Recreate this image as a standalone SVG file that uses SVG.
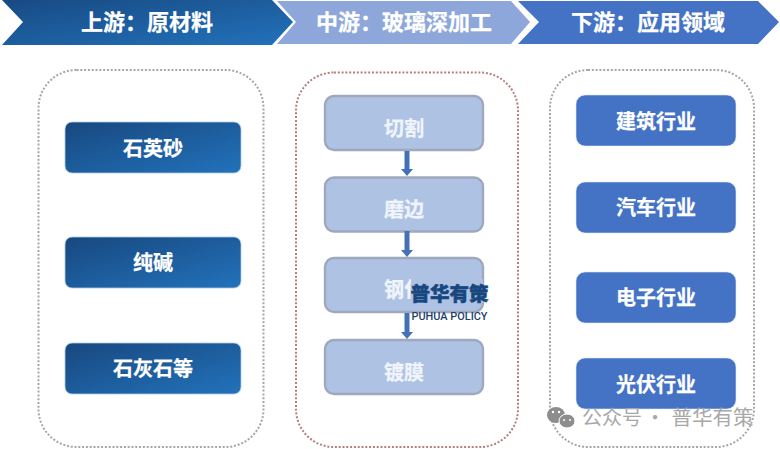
<svg xmlns="http://www.w3.org/2000/svg" width="780" height="449" viewBox="0 0 780 449">
  <style>
    text { font-family: "Noto Sans CJK SC", "Noto Sans", sans-serif; text-anchor: middle; }
    .hd { font-size: 22px; font-weight: 700; fill: #fff; stroke: #fff; stroke-width: .25; }
    .lb { font-size: 20px; font-weight: 700; fill: #fff; stroke: #fff; stroke-width: .25; }
    .mid { fill: #f0f4fb; stroke: #f0f4fb; }
    .panel { fill: #fff; stroke-width: 2; stroke-dasharray: 2 1.800; }
    .dark { fill: url(#dg); stroke: #a9cbe8; stroke-width: .8; }
    .soft { fill: #aec2e3; stroke: #9fa8bc; stroke-width: 2.400; }
    .blue { fill: #4472c4; stroke: #dce7f6; stroke-width: .6; }
    .arrow { stroke: #4470b8; stroke-width: 5; fill: none; marker-end: url(#ah); }
  </style>
  <defs>
    <linearGradient id="dg" x1="0" y1="0" x2="1" y2="1">
      <stop offset="0" stop-color="#18487f"/>
      <stop offset="1" stop-color="#2272bb"/>
    </linearGradient>
    <linearGradient id="hg" x1="0" y1="0" x2="1" y2="1">
      <stop offset="0" stop-color="#184a83"/>
      <stop offset="1" stop-color="#2272bb"/>
    </linearGradient>
    <marker id="ah" markerUnits="userSpaceOnUse" markerWidth="7" markerHeight="12" refX="1" refY="6" orient="auto" viewBox="0 0 7 12">
      <path d="M0 0L7 6L0 12Z" fill="#4470b8"/>
    </marker>
  </defs>
  <rect width="780" height="449" fill="#fff"/>

  <g id="header-up">
    <polygon points="2,0 272,0 293,22 272,45 2,45 23,22" fill="url(#hg)"/>
    <text class="hd" x="147" y="30">上游：原材料</text>
  </g>
  <g id="header-mid">
    <polygon points="277,1 511,1 530,22 511,44 277,44 296,22" fill="#8ea7da"/>
    <text class="hd" x="404" y="30">中游：玻璃深加工</text>
  </g>
  <g id="header-down">
    <polygon points="518,1 758,1 779,22 758,44 518,44 539,22" fill="#4472c4"/>
    <text class="hd" x="648" y="30">下游：应用领域</text>
  </g>

  <g id="panel-up"><rect class="panel" x="38.500" y="70" width="225" height="377" rx="38" stroke="#a6a6a6"/></g>
  <g id="panel-mid"><rect class="panel" x="296" y="72.500" width="222" height="374.500" rx="38" stroke="#b47f80"/></g>
  <g id="panel-down"><rect class="panel" x="550" y="70" width="204" height="377" rx="38" stroke="#a6a6a6"/></g>

  <g id="n-quartz"><rect class="dark" x="65" y="122" width="176" height="51" rx="7"/><text class="lb" x="153" y="155.500">石英砂</text></g>
  <g id="n-soda"><rect class="dark" x="65" y="237" width="176" height="51" rx="7"/><text class="lb" x="153" y="270">纯碱</text></g>
  <g id="n-lime"><rect class="dark" x="65" y="343" width="176" height="51" rx="7"/><text class="lb" x="153" y="376">石灰石等</text></g>

  <g id="n-cut"><rect class="soft" x="325" y="96" width="158" height="54" rx="9"/><text class="lb mid" x="404" y="135.500">切割</text></g>
  <g id="n-edge"><rect class="soft" x="325" y="177.500" width="158" height="54" rx="9"/><text class="lb mid" x="404" y="216.500">磨边</text></g>
  <g id="n-temper"><rect class="soft" x="325" y="258" width="158" height="54" rx="9"/><text class="lb mid" x="404" y="297">钢化</text></g>
  <g id="n-coat"><rect class="soft" x="325" y="340" width="158" height="54" rx="9"/><text class="lb mid" x="404" y="379.500">镀膜</text></g>

  <g id="connectors">
    <line class="arrow" x1="407" y1="151" x2="407" y2="170"/>
    <line class="arrow" x1="407" y1="231" x2="407" y2="251"/>
    <line class="arrow" x1="407" y1="313" x2="407" y2="333"/>
  </g>

  <g id="n-build"><rect class="blue" x="576" y="95" width="160" height="51" rx="9"/><text class="lb" x="656" y="129">建筑行业</text></g>
  <g id="n-car"><rect class="blue" x="576" y="182" width="160" height="51" rx="9"/><text class="lb" x="656" y="215">汽车行业</text></g>
  <g id="n-elec"><rect class="blue" x="576" y="272" width="160" height="51" rx="9"/><text class="lb" x="656" y="305">电子行业</text></g>
  <g id="n-pv"><rect class="blue" x="576" y="358" width="160" height="51" rx="9"/><text class="lb" x="656" y="392">光伏行业</text></g>

  <g id="watermark">
    <rect x="411" y="279" width="72" height="24" fill="#aec2e3"/>
    <text x="449.500" y="301" font-size="19.500" font-weight="900" fill="#17477f" stroke="#17477f" stroke-width=".5">普华有策</text>
    <text x="449.500" y="320" font-size="11.500" font-weight="500" fill="#1d3f6e" style="font-family:'Roboto','Noto Sans',sans-serif" textLength="76" lengthAdjust="spacingAndGlyphs">PUHUA POLICY</text>
  </g>
  <g id="wechat-mark">
    <ellipse cx="556" cy="415" rx="9" ry="8" fill="#8d8d8d"/>
    <ellipse cx="567" cy="421" rx="8" ry="7" fill="#8d8d8d" stroke="#fff" stroke-width="1"/>
    <circle cx="553" cy="412" r="1.200" fill="#fff"/><circle cx="559" cy="412" r="1.200" fill="#fff"/>
    <circle cx="564" cy="420" r="1" fill="#fff"/><circle cx="570" cy="420" r="1" fill="#fff"/>
    <text x="612" y="425" font-size="20" fill="#a8a8a8">公众号</text>
    <text x="655" y="425" font-size="20" fill="#a8a8a8">·</text>
    <text x="712.500" y="425" font-size="20.500" fill="#a8a8a8">普华有策</text>
  </g>
</svg>
